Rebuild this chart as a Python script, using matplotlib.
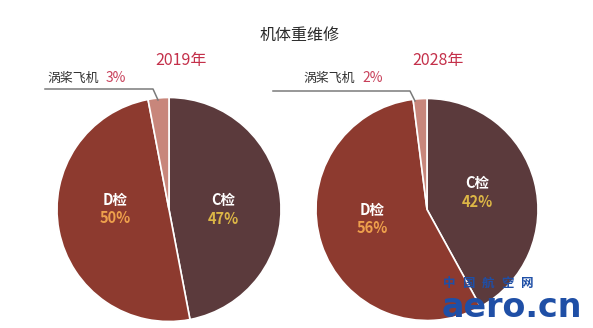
import matplotlib
matplotlib.use('Agg')
import matplotlib.pyplot as plt

plt.rcParams['font.family'] = ['Noto Sans CJK SC', 'DejaVu Sans']

# data
categories = ['C检', 'D检', '涡桨飞机']
share_2019 = [47, 50, 3]
share_2028 = [42, 56, 2]
years = ['2019年', '2028年']
title = '机体重维修'

colors = ['#5b3a3c', '#8d3a2f', '#c8867b']
W, H = 593, 328


def py(y):
    # pixel row -> data y
    return H - y


fig = plt.figure(figsize=(W / 100, H / 100), dpi=100)
ax = fig.add_axes([0, 0, 1, 1])

pies = [
    dict(cx=169, cy=209.5, r=112, vals=share_2019, year=years[0], yx=181,
         lab_x=47, pct_x=106, line=[(45, 89), (153, 89), (158, 100)],
         d_pos=(115, 200), c_pos=(223, 200)),
    dict(cx=427, cy=209.5, r=111, vals=share_2028, year=years[1], yx=438,
         lab_x=303, pct_x=362, line=[(273, 91), (410, 91), (415, 101)],
         d_pos=(372, 210), c_pos=(477, 183)),
]

for p in pies:
    ax.pie(p['vals'], colors=colors, startangle=90, counterclock=False,
           center=(p['cx'], py(p['cy'])), radius=p['r'],
           wedgeprops=dict(edgecolor='white', linewidth=1.2))
    ax.text(p['yx'], py(60), p['year'], color='#c4304a', fontsize=11.5,
            ha='center', va='center')
    # small slice label + leader line
    ax.text(p['lab_x'], py(78), categories[2], color='#333333',
            fontsize=9.3, ha='left', va='center')
    ax.text(p['pct_x'], py(78), f"{p['vals'][2]}%", color='#c8405a',
            fontsize=10, ha='left', va='center')
    xs = [q[0] for q in p['line']]
    ys = [py(q[1]) for q in p['line']]
    ax.plot(xs, ys, color='#7a7a7a', lw=1.1)
    # inner labels
    dx, dy = p['d_pos']
    ax.text(dx, py(dy), categories[1], color='white', fontsize=10.5,
            fontweight='bold', ha='center', va='center')
    ax.text(dx, py(dy + 18), f"{p['vals'][1]}%", color='#eea04c',
            fontsize=10.5, fontweight='bold', ha='center', va='center')
    cx, cy = p['c_pos']
    ax.text(cx, py(cy), categories[0], color='white', fontsize=10.5,
            fontweight='bold', ha='center', va='center')
    ax.text(cx, py(cy + 19), f"{p['vals'][0]}%", color='#dcb646',
            fontsize=10.5, fontweight='bold', ha='center', va='center')

ax.text(300, py(35), title, color='#2a2a2a', fontsize=11.5,
        ha='center', va='center')

# watermark
for i, ch in enumerate('中国航空网'):
    ax.text(449 + i * 19.5, py(283), ch, color='#1f4fa6', fontsize=9,
            fontweight='bold', ha='center', va='center')
ax.text(512, py(317), 'aero.cn', color='#1f4fa6', fontsize=24,
        fontweight='bold', ha='center', va='baseline', family='DejaVu Sans')

ax.set_xlim(0, W)
ax.set_ylim(0, H)
ax.set_aspect('equal')
ax.axis('off')

fig.savefig('out.png', dpi=100, facecolor='white')
